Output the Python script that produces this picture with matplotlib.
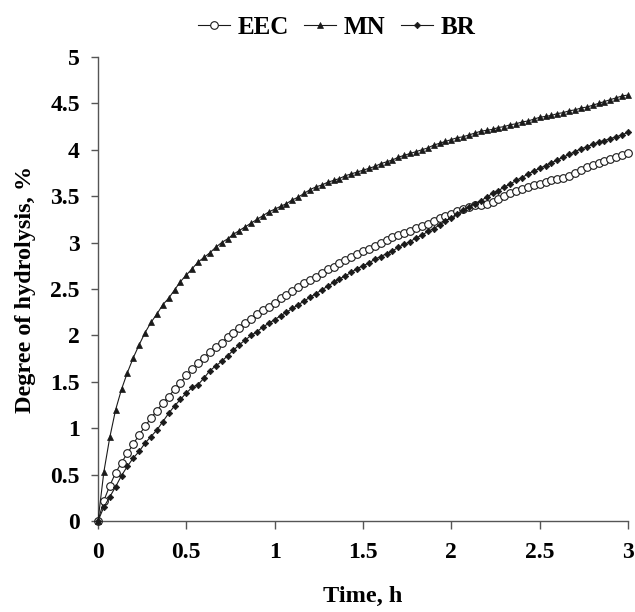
import numpy as np
import matplotlib
matplotlib.use("Agg")
import matplotlib.pyplot as plt

time_h = [i / 30 for i in range(91)]

mn = [0.00, 0.53, 0.90, 1.20, 1.42, 1.60, 1.76, 1.90, 2.03, 2.14,
      2.23, 2.33, 2.40, 2.49, 2.58, 2.65, 2.72, 2.79, 2.84, 2.89,
      2.95, 3.00, 3.04, 3.09, 3.13, 3.17, 3.21, 3.25, 3.29, 3.33,
      3.36, 3.39, 3.42, 3.46, 3.49, 3.53, 3.57, 3.60, 3.62, 3.65,
      3.67, 3.69, 3.72, 3.74, 3.76, 3.78, 3.80, 3.82, 3.85, 3.87,
      3.89, 3.92, 3.94, 3.96, 3.98, 4.00, 4.02, 4.05, 4.07, 4.09,
      4.11, 4.13, 4.14, 4.16, 4.18, 4.20, 4.21, 4.22, 4.24, 4.25,
      4.27, 4.28, 4.30, 4.31, 4.33, 4.35, 4.36, 4.37, 4.39, 4.40,
      4.42, 4.43, 4.45, 4.46, 4.48, 4.50, 4.52, 4.54, 4.56, 4.58,
      4.59]

eec = [0.00, 0.22, 0.38, 0.52, 0.63, 0.73, 0.83, 0.93, 1.02, 1.11,
       1.19, 1.27, 1.34, 1.42, 1.49, 1.57, 1.64, 1.70, 1.76, 1.82,
       1.87, 1.92, 1.98, 2.03, 2.08, 2.13, 2.18, 2.23, 2.27, 2.31,
       2.35, 2.40, 2.44, 2.48, 2.52, 2.56, 2.60, 2.63, 2.67, 2.71,
       2.74, 2.78, 2.81, 2.84, 2.88, 2.91, 2.93, 2.96, 3.00, 3.03,
       3.06, 3.08, 3.10, 3.13, 3.16, 3.18, 3.20, 3.23, 3.26, 3.29,
       3.31, 3.34, 3.36, 3.38, 3.40, 3.41, 3.42, 3.44, 3.47, 3.50,
       3.53, 3.56, 3.58, 3.60, 3.62, 3.63, 3.65, 3.67, 3.68, 3.70,
       3.72, 3.75, 3.78, 3.81, 3.84, 3.86, 3.88, 3.90, 3.92, 3.94,
       3.97]

br = [0.00, 0.15, 0.26, 0.37, 0.49, 0.59, 0.68, 0.75, 0.84, 0.91,
      0.98, 1.07, 1.16, 1.24, 1.31, 1.38, 1.44, 1.47, 1.54, 1.62,
      1.67, 1.72, 1.78, 1.84, 1.90, 1.95, 2.00, 2.04, 2.09, 2.13,
      2.17, 2.21, 2.25, 2.29, 2.33, 2.37, 2.41, 2.45, 2.49, 2.53,
      2.57, 2.61, 2.64, 2.68, 2.72, 2.75, 2.78, 2.82, 2.85, 2.88,
      2.91, 2.95, 2.98, 3.01, 3.05, 3.08, 3.12, 3.15, 3.19, 3.23,
      3.27, 3.31, 3.35, 3.38, 3.42, 3.45, 3.49, 3.53, 3.56, 3.60,
      3.63, 3.67, 3.70, 3.74, 3.77, 3.80, 3.83, 3.86, 3.89, 3.92,
      3.95, 3.98, 4.01, 4.03, 4.06, 4.08, 4.10, 4.12, 4.14, 4.16,
      4.19]

x_ticks = [0, 0.5, 1, 1.5, 2, 2.5, 3]
x_tick_labels = ["0", "0.5", "1", "1.5", "2", "2.5", "3"]
y_ticks = [0, 0.5, 1, 1.5, 2, 2.5, 3, 3.5, 4, 4.5, 5]
y_tick_labels = ["0", "0.5", "1", "1.5", "2", "2.5", "3", "3.5", "4", "4.5", "5"]

plt.rcParams['font.family'] = ['Liberation Serif', 'DejaVu Serif']
plt.rcParams['font.weight'] = 'bold'

fig = plt.figure(figsize=(6.35, 6.12), dpi=100)
ax = fig.add_axes([0.1543, 0.1487, 0.8347, 0.7582])

lc = '#1a1a1a'
ax.plot(time_h, eec, color=lc, lw=0.8, marker='o', ms=5.5, mfc='white',
        mec=lc, mew=0.8, label='EEC', clip_on=False, zorder=3)
ax.plot(time_h, mn, color=lc, lw=0.8, marker='^', ms=5, mfc=lc,
        mec=lc, mew=0.5, label='MN', clip_on=False, zorder=3)
ax.plot(time_h, br, color=lc, lw=0.8, marker='D', ms=3.3, mfc=lc,
        mec=lc, mew=0.5, label='BR', clip_on=False, zorder=3)

ax.set_xlim(0, 3)
ax.set_ylim(0, 5)
ax.set_xticks(x_ticks)
ax.set_xticklabels(x_tick_labels)
ax.set_yticks(y_ticks)
ax.set_yticklabels(y_tick_labels)

for s in ['top', 'right']:
    ax.spines[s].set_visible(False)
for s in ['left', 'bottom']:
    ax.spines[s].set_color('#555555')
    ax.spines[s].set_linewidth(1.0)

ax.tick_params(axis='x', direction='out', length=6, width=1, color='#555555',
               labelsize=17, pad=9)
ax.tick_params(axis='y', direction='out', length=5, width=1, color='#555555',
               labelsize=17, pad=8)
for lab in ax.get_xticklabels() + ax.get_yticklabels():
    lab.set_fontweight('bold')

ax.set_xlabel('Time, h', fontsize=17.5, fontweight='bold', labelpad=17)
ax.set_ylabel('Degree of hydrolysis, %', fontsize=17.5, fontweight='bold', labelpad=10)

leg = fig.legend(loc='center', bbox_to_anchor=(0.53, 0.955), ncol=3,
                 frameon=False, handlelength=1.3, handletextpad=0.3,
                 columnspacing=0.6, prop={'size': 18, 'weight': 'bold'})

fig.savefig('out.png', dpi=100)
